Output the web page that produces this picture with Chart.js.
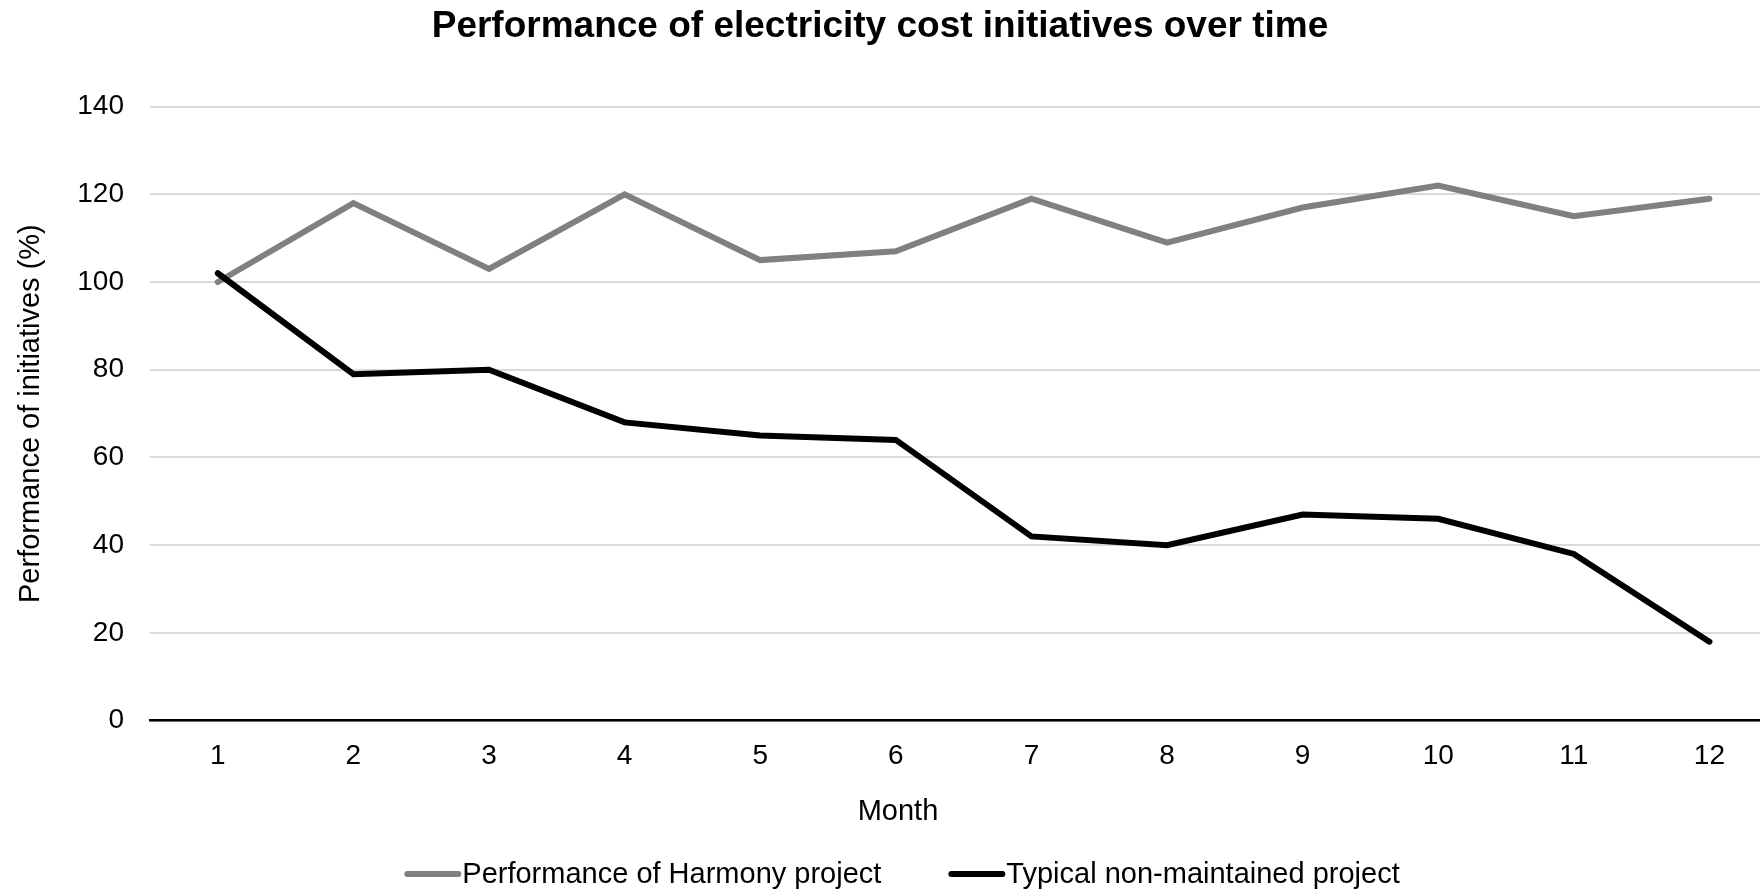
<!DOCTYPE html>
<html>
<head>
<meta charset="utf-8">
<script src="https://cdn.jsdelivr.net/npm/chart.js@4.4.1/dist/chart.umd.min.js"></script>
<style>
  html, body { margin: 0; padding: 0; background: #fff; overflow: hidden; }
  canvas { display: block; }
</style>
</head>
<body>
<canvas id="chart" width="1760" height="891"></canvas>
<script>
// Chart text
const chartTitle = 'Performance of electricity cost initiatives over time';
const xAxisTitle = 'Month';
const yAxisTitle = 'Performance of initiatives (%)';

// Categories and series
const months = [1, 2, 3, 4, 5, 6, 7, 8, 9, 10, 11, 12];
const seriesNames = ['Performance of Harmony project', 'Typical non-maintained project'];
const harmonyValues = [100, 118, 103, 120, 105, 107, 119, 109, 117, 122, 115, 119];
const typicalValues = [102, 79, 80, 68, 65, 64, 42, 40, 47, 46, 38, 18];

// Tick labels
const yTicks = [0, 20, 40, 60, 80, 100, 120, 140];
const xTicks = months;

const FONT = '"Liberation Sans", Arial, Helvetica, sans-serif';
Chart.defaults.font.family = FONT;
Chart.defaults.color = '#000';

const toPoints = vals => months.map((m, i) => ({ x: m, y: vals[i] }));

// Axis title under the month ticks and the line-sample legend at the bottom
const bottomTexts = {
  id: 'bottomTexts',
  afterDraw(chart) {
    const ctx = chart.ctx;
    ctx.save();
    ctx.font = '29px ' + FONT;
    ctx.fillStyle = '#000';
    ctx.textBaseline = 'middle';
    ctx.textAlign = 'center';
    ctx.fillText(xAxisTitle, 898, 812);

    const sample = 57, gap = 1, spacing = 67, y = 874;
    const items = chart.data.datasets.map(ds => ({ ds, w: ctx.measureText(ds.label).width }));
    const total = items.reduce((s, it) => s + sample + gap + it.w, 0) + spacing * (items.length - 1);
    let x = 902 - total / 2;
    ctx.textAlign = 'left';
    items.forEach(it => {
      ctx.strokeStyle = it.ds.borderColor;
      ctx.lineWidth = 6;
      ctx.lineCap = 'round';
      ctx.beginPath();
      ctx.moveTo(x + 3, y);
      ctx.lineTo(x + sample - 3, y);
      ctx.stroke();
      ctx.fillText(it.ds.label, x + sample + gap, y + 1);
      x += sample + gap + it.w + spacing;
    });
    ctx.restore();
  }
};

new Chart(document.getElementById('chart'), {
  type: 'line',
  data: {
    datasets: [
      {
        label: seriesNames[0],
        data: toPoints(harmonyValues),
        borderColor: '#808080',
        backgroundColor: '#808080',
        borderWidth: 6,
        order: 1
      },
      {
        label: seriesNames[1],
        data: toPoints(typicalValues),
        borderColor: '#000000',
        backgroundColor: '#000000',
        borderWidth: 6,
        order: 0
      }
    ]
  },
  options: {
    responsive: false,
    animation: false,
    layout: { padding: 0 },
    elements: {
      point: { radius: 0, hoverRadius: 0 },
      line: { tension: 0, borderCapStyle: 'round', borderJoinStyle: 'miter', fill: false }
    },
    plugins: {
      legend: { display: false },
      tooltip: { enabled: false },
      title: {
        display: true,
        text: chartTitle,
        color: '#000',
        font: { size: 37, weight: 'bold', family: FONT },
        padding: { top: 5, bottom: 57.2 }
      }
    },
    scales: {
      x: {
        type: 'linear',
        min: 0.5,
        max: 12.373,
        afterBuildTicks: s => { s.ticks = xTicks.map(v => ({ value: v })); },
        afterFit: s => { s.height = 170.4; },
        grid: { display: false, drawTicks: false },
        border: { display: true, color: '#000', width: 2.5 },
        ticks: {
          padding: 19,
          color: '#000',
          font: { size: 28 },
          maxRotation: 0,
          autoSkip: false,
          callback: v => String(v)
        }
      },
      y: {
        min: 0,
        max: 140,
        afterBuildTicks: s => { s.ticks = yTicks.map(v => ({ value: v })); },
        afterFit: s => { s.width = 150; },
        grid: { color: '#d9d9d9', lineWidth: 2, drawTicks: false },
        border: { display: false },
        ticks: {
          padding: 26,
          color: '#000',
          font: { size: 28 },
          callback: v => String(v)
        },
        title: {
          display: true,
          text: yAxisTitle,
          color: '#000',
          font: { size: 29 },
          padding: { top: 14, bottom: 0 }
        }
      }
    }
  },
  plugins: [bottomTexts]
});
</script>
</body>
</html>
